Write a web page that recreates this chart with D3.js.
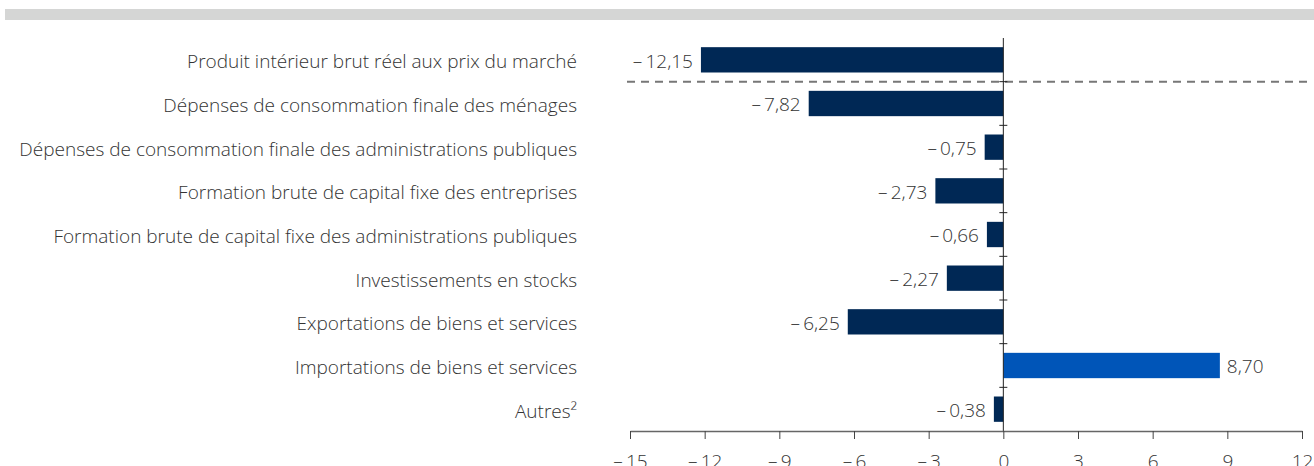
<!DOCTYPE html>
<html>
<head>
<meta charset="utf-8">
<script src="https://d3js.org/d3.v7.min.js"></script>
<style>
  body { margin: 0; background: #fff; }
  text { font-family: "Open Sans", sans-serif; font-weight: 300; fill: #333; }
</style>
</head>
<body>
<svg width="1314" height="466"></svg>
<script>
// data
var categories = [
  "Produit intérieur brut réel aux prix du marché",
  "Dépenses de consommation finale des ménages",
  "Dépenses de consommation finale des administrations publiques",
  "Formation brute de capital fixe des entreprises",
  "Formation brute de capital fixe des administrations publiques",
  "Investissements en stocks",
  "Exportations de biens et services",
  "Importations de biens et services",
  "Autres²"
];
var values = [-12.15, -7.82, -0.75, -2.73, -0.66, -2.27, -6.25, 8.70, -0.38];
var tickValues = [-15, -12, -9, -6, -3, 0, 3, 6, 9, 12];

var svg = d3.select("svg");

// bande grise en haut
svg.append("rect").attr("x", 5).attr("y", 9).attr("width", 1309).attr("height", 11).attr("fill", "#d5d6d5");

var x = d3.scaleLinear().domain([-15, 12]).range([630, 1302]);
var y = d3.scaleBand().domain(categories).range([38, 431]).paddingInner(0.42).paddingOuter(0.21);

// format "– 12,15"
function fmt(v, dec) {
  var s = Math.abs(v).toFixed(dec).replace(".", ",");
  return v < 0 ? "\u2013\u2009" + s : s;
}

// barres
svg.selectAll(".bar")
  .data(values)
  .enter()
  .append("rect")
  .attr("class", "bar")
  .attr("x", function (d) { return x(Math.min(0, d)); })
  .attr("y", function (d, i) { return y(categories[i]); })
  .attr("width", function (d) { return Math.abs(x(d) - x(0)); })
  .attr("height", y.bandwidth())
  .attr("fill", function (d) { return d > 0 ? "#0055b8" : "#002855"; });

// étiquettes de valeurs
svg.selectAll(".val")
  .data(values)
  .enter()
  .append("text")
  .attr("class", "val")
  .attr("x", function (d) { return d < 0 ? x(d) - 8 : x(d) + 7; })
  .attr("y", function (d, i) { return y(categories[i]) + y.bandwidth() / 2; })
  .attr("dy", "0.42em")
  .attr("text-anchor", function (d) { return d < 0 ? "end" : "start"; })
  .style("font-size", "19px")
  .text(function (d) { return fmt(d, 2); });

// libellés des catégories
svg.selectAll(".cat")
  .data(categories)
  .enter()
  .append("text")
  .attr("class", "cat")
  .attr("x", 577)
  .attr("y", function (d) { return y(d) + y.bandwidth() / 2; })
  .attr("dy", "0.45em")
  .attr("text-anchor", "end")
  .style("font-size", "19px")
  .text(function (d) { return d; });

// ligne pointillée sous le PIB
var sepY = y(categories[1]) - (y.step() - y.bandwidth()) / 2;
svg.append("line")
  .attr("x1", 627).attr("x2", 1310)
  .attr("y1", sepY).attr("y2", sepY)
  .attr("stroke", "#777").attr("stroke-width", 2)
  .attr("stroke-dasharray", "8,6");

// axe vertical à zéro
svg.append("line")
  .attr("x1", x(0)).attr("x2", x(0))
  .attr("y1", 38).attr("y2", 431)
  .attr("stroke", "#222").attr("stroke-width", 1);

// petits repères entre catégories
svg.selectAll(".ytick")
  .data(categories.slice(1))
  .enter()
  .append("line")
  .attr("class", "ytick")
  .attr("x1", x(0) - 4).attr("x2", x(0) + 4)
  .attr("y1", function (d) { return y(d) - (y.step() - y.bandwidth()) / 2; })
  .attr("y2", function (d) { return y(d) - (y.step() - y.bandwidth()) / 2; })
  .attr("stroke", "#222");

// axe x
var xAxis = d3.axisBottom(x)
  .tickValues(tickValues)
  .tickSizeInner(8)
  .tickSizeOuter(0)
  .tickPadding(16)
  .tickFormat(function (d) { return fmt(d, 0); });

var gx = svg.append("g")
  .attr("transform", "translate(0,431)")
  .call(xAxis);
gx.select(".domain").attr("stroke", "#666").attr("stroke-width", 1.5);
gx.selectAll(".tick line").attr("stroke", "#444");
gx.selectAll(".tick text")
  .style("font-size", "19px")
  .style("font-family", "'Open Sans', sans-serif")
  .style("font-weight", "300")
  .attr("fill", "#333");
</script>
</body>
</html>
